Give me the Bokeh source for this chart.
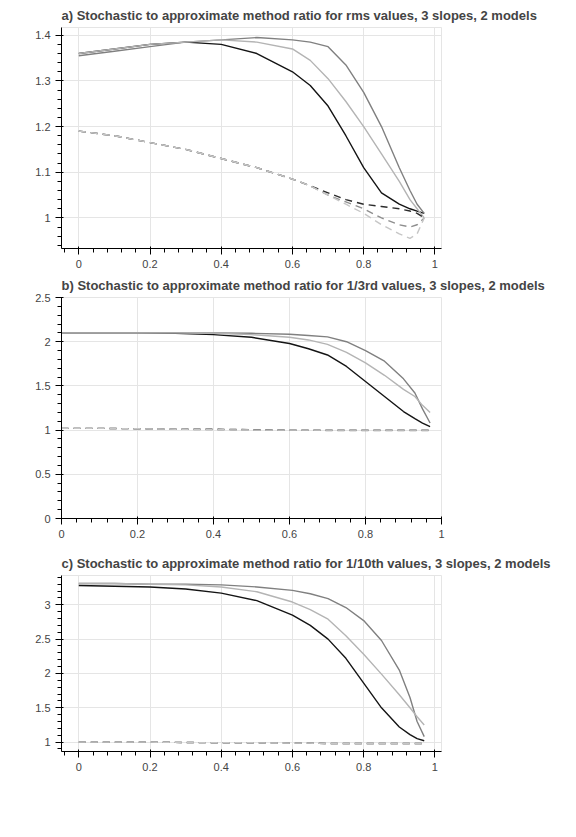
from bokeh.plotting import figure
from bokeh.models import Range1d
from bokeh.layouts import column
from bokeh.embed import file_html
from bokeh.resources import INLINE

# ---------------- data ----------------
x_hat = [0, 0.1, 0.2, 0.3, 0.4, 0.5, 0.6, 0.65, 0.7, 0.75, 0.8, 0.85, 0.9, 0.93, 0.95, 0.97]

rms_cd_10 = [1.36, 1.37, 1.38, 1.385, 1.38, 1.36, 1.32, 1.29, 1.245, 1.18, 1.11, 1.055, 1.03, 1.02, 1.015, 1.01]
rms_cd_20 = [1.355, 1.365, 1.375, 1.385, 1.39, 1.395, 1.39, 1.385, 1.375, 1.335, 1.275, 1.2, 1.11, 1.06, 1.03, 1.01]
rms_cd_50 = [1.36, 1.37, 1.38, 1.385, 1.39, 1.385, 1.37, 1.345, 1.305, 1.255, 1.2, 1.14, 1.08, 1.04, 1.02, 1.0]
rms_ct_10 = [1.19, 1.18, 1.165, 1.15, 1.13, 1.11, 1.085, 1.07, 1.055, 1.04, 1.03, 1.025, 1.02, 1.015, 1.01, 1.0]
rms_ct_20 = [1.19, 1.18, 1.165, 1.15, 1.13, 1.11, 1.085, 1.07, 1.05, 1.035, 1.02, 1.0, 0.985, 0.98, 0.985, 1.0]
rms_ct_50 = [1.19, 1.18, 1.165, 1.15, 1.13, 1.11, 1.085, 1.07, 1.05, 1.03, 1.01, 0.985, 0.965, 0.955, 0.965, 1.0]

third_cd_10 = [2.1, 2.1, 2.1, 2.095, 2.08, 2.05, 1.98, 1.92, 1.85, 1.72, 1.55, 1.38, 1.21, 1.13, 1.08, 1.04]
third_cd_20 = [2.1, 2.1, 2.1, 2.1, 2.1, 2.095, 2.085, 2.07, 2.055, 2.0, 1.9, 1.78, 1.58, 1.42, 1.24, 1.08]
third_cd_50 = [2.1, 2.1, 2.1, 2.1, 2.095, 2.08, 2.05, 2.02, 1.97, 1.88, 1.76, 1.62, 1.46, 1.38, 1.28, 1.2]
third_ct_10 = [1.02, 1.02, 1.015, 1.01, 1.01, 1.005, 1.0, 1.0, 1.0, 1.0, 1.0, 1.0, 1.0, 1.0, 1.0, 1.0]
third_ct_20 = [1.02, 1.02, 1.015, 1.01, 1.005, 1.0, 1.0, 1.0, 0.995, 0.995, 0.995, 0.995, 0.995, 0.995, 0.995, 0.995]
third_ct_50 = [1.02, 1.02, 1.015, 1.01, 1.005, 1.0, 1.0, 1.0, 1.0, 1.0, 1.0, 1.0, 1.0, 1.0, 1.0, 1.0]

tenth_cd_10 = [3.28, 3.27, 3.26, 3.23, 3.17, 3.06, 2.85, 2.7, 2.5, 2.22, 1.86, 1.5, 1.22, 1.11, 1.05, 1.02]
tenth_cd_20 = [3.31, 3.31, 3.3, 3.3, 3.29, 3.26, 3.21, 3.16, 3.09, 2.96, 2.77, 2.48, 2.05, 1.65, 1.3, 1.08]
tenth_cd_50 = [3.31, 3.31, 3.3, 3.29, 3.26, 3.19, 3.04, 2.93, 2.79, 2.55, 2.28, 1.99, 1.69, 1.5, 1.37, 1.25]
tenth_ct_10 = [1.0, 1.0, 1.0, 0.995, 0.99, 0.99, 0.985, 0.985, 0.98, 0.98, 0.98, 0.98, 0.98, 0.98, 0.98, 0.98]
tenth_ct_20 = [1.0, 1.0, 1.0, 0.995, 0.99, 0.99, 0.985, 0.985, 0.98, 0.98, 0.98, 0.98, 0.98, 0.98, 0.98, 0.98]
tenth_ct_50 = [1.0, 1.0, 1.0, 0.995, 0.99, 0.99, 0.985, 0.985, 0.98, 0.98, 0.98, 0.98, 0.98, 0.98, 0.98, 0.98]

panel_titles = ["a) Stochastic to approximate method ratio for rms values, 3 slopes, 2 models",
                "b) Stochastic to approximate method ratio for 1/3rd values, 3 slopes, 2 models",
                "c) Stochastic to approximate method ratio for 1/10th values, 3 slopes, 2 models"]
y_maxes = [2, 2.5, 4]
panel_series = [
    [rms_cd_10, rms_cd_20, rms_cd_50, rms_ct_10, rms_ct_20, rms_ct_50],
    [third_cd_10, third_cd_20, third_cd_50, third_ct_10, third_ct_20, third_ct_50],
    [tenth_cd_10, tenth_cd_20, tenth_cd_50, tenth_ct_10, tenth_ct_20, tenth_ct_50],
]
line_colors = ["#141414", "#808080", "#b4b4b4", "#2c2c2c", "#8e8e8e", "#c6c6c6"]
line_dashes = ["solid", "solid", "solid", "7 5", "7 5", "7 5"]


def make(i):
    kw = {}
    if i == 1:
        kw = dict(x_range=Range1d(0, 1), y_range=Range1d(0, y_maxes[i]))
    if i == 2:
        kw = dict(min_border_left=61, min_border_right=119, min_border_top=35, min_border_bottom=59)
    p = figure(width=560, height=270, output_backend="svg", toolbar_location=None,
               title=panel_titles[i], **kw)
    for k, ys in enumerate(panel_series[i]):
        p.line(x_hat, ys, line_color=line_colors[k], line_width=1.4, line_dash=line_dashes[k])
    return p


layout = column(*[make(i) for i in range(3)])
open("out.html", "w").write(file_html(layout, INLINE))
